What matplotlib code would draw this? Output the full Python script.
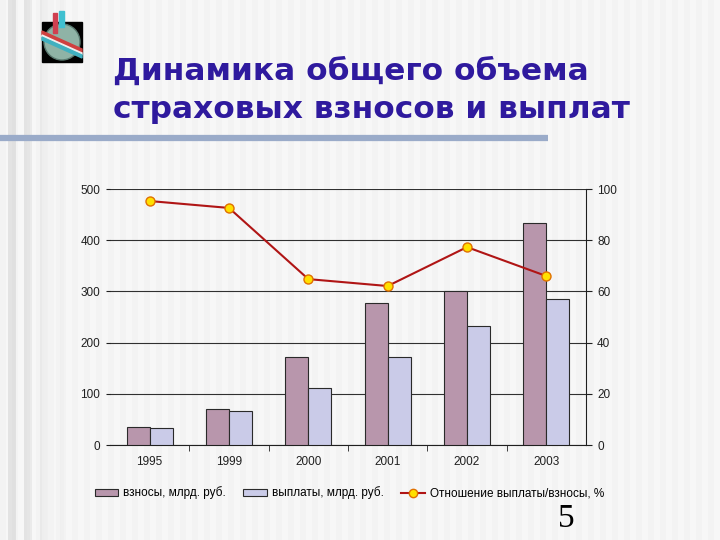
import numpy as np
import matplotlib.pyplot as plt
from matplotlib.patches import Circle, Rectangle, Polygon, Patch
from matplotlib.lines import Line2D

# data
years = ['1995', '1999', '2000', '2001', '2002', '2003']
premiums = [35, 70, 172, 277, 301, 434]      # взносы, млрд. руб.
payouts = [33, 66, 111, 172, 232, 285]       # выплаты, млрд. руб.
ratio = [95.3, 92.6, 64.8, 62.1, 77.3, 66.0]  # выплаты/взносы, %

c_prem = '#b896ac'
c_pay = '#cacbe8'
c_line = '#b01515'

fig = plt.figure(figsize=(7.2, 5.4), dpi=100)

# striped slide background (pixel coords)
bg = fig.add_axes([0, 0, 1, 1], zorder=-10)
x = np.arange(720)
row = 0.95 + 0.018 * ((x // 6) % 2)
fade = np.clip(1 - x / 70, 0, 1)
row = row - 0.09 * fade * ((x // 8) % 2)
bg.imshow(np.tile(row, (540, 1)), cmap='gray', vmin=0, vmax=1,
          aspect='auto', extent=[0, 720, 540, 0], interpolation='nearest')
bg.set_xlim(0, 720)
bg.set_ylim(540, 0)
bg.axis('off')

# horizontal rule under the title
bg.plot([0, 548], [138, 138], color='#9aabc9', lw=4.5, solid_capstyle='butt')

# small globe icon
bg.add_patch(Rectangle((42, 22), 40, 40, color='black'))
bg.add_patch(Circle((62, 42), 18, fc='#8fb3a6', ec='#5a7a70', lw=1))
bg.add_patch(Polygon([[42, 31], [82, 49], [82, 53], [42, 35]], color='#d04040'))
bg.add_patch(Polygon([[42, 35], [82, 53], [82, 55], [42, 37]], color='#f0f0f0'))
bg.add_patch(Polygon([[42, 37], [82, 55], [82, 58], [42, 40]], color='#40b0c0'))
bg.add_patch(Rectangle((53, 13), 4, 20, color='#d04050'))
bg.add_patch(Rectangle((59, 11), 5, 16, color='#40c0d0'))

# title
bg.text(113, 80, 'Динамика общего объема', fontsize=22.5, weight='bold',
        color='#2f1a9e', va='baseline', ha='left')
bg.text(113, 118, 'страховых взносов и выплат', fontsize=22.5, weight='bold',
        color='#2f1a9e', va='baseline', ha='left')

# page number
bg.text(566, 527, '5', fontfamily='Liberation Serif', fontsize=24,
        ha='center', va='baseline')

# chart
ax = fig.add_axes([110 / 720, 95 / 540, 476 / 720, 256 / 540])
ax.patch.set_alpha(0)
idx = np.arange(len(years))
w = 0.29
ax.bar(idx - w / 2, premiums, w, color=c_prem, edgecolor='#2a2a2a', lw=0.8, zorder=3)
ax.bar(idx + w / 2, payouts, w, color=c_pay, edgecolor='#2a2a2a', lw=0.8, zorder=3)
ax.set_xlim(-0.5, 5.5)
ax.set_ylim(0, 500)
ax.set_yticks(np.arange(0, 501, 100))
ax.yaxis.grid(True, color='#303030', lw=0.8, zorder=0)
ax.set_axisbelow(True)
ax.set_xticks(idx)
ax.set_xticklabels(years)
ax.set_xticks(idx[:-1] + 0.5, minor=True)
ax.tick_params(axis='x', which='major', length=0, pad=8)
ax.tick_params(axis='x', which='minor', length=4, direction='out', color='#202020')
ax.tick_params(axis='y', length=3, color='#202020', pad=4)
for s in ['top', 'left', 'right']:
    ax.spines[s].set_visible(False)
ax.spines['bottom'].set_color('#202020')

ax2 = ax.twinx()
ax2.plot(idx, ratio, color=c_line, lw=1.5, marker='o', ms=6.5,
         mfc='#ffe000', mec='#e07000', mew=1, zorder=5)
ax2.set_ylim(0, 100)
ax2.set_yticks(np.arange(0, 101, 20))
ax2.tick_params(axis='y', length=4, direction='out', color='#202020', pad=4)
for s in ['top', 'left', 'bottom']:
    ax2.spines[s].set_visible(False)
ax2.spines['right'].set_color('#202020')

for a in (ax, ax2):
    for lab in a.get_xticklabels() + a.get_yticklabels():
        lab.set_fontfamily('Liberation Sans')
        lab.set_fontsize(8.5)
        lab.set_color('#202020')

handles = [
    Patch(fc=c_prem, ec='#2a2a2a', lw=0.8),
    Patch(fc=c_pay, ec='#2a2a2a', lw=0.8),
    Line2D([], [], color=c_line, lw=1.5, marker='o', ms=6,
           mfc='#ffe000', mec='#e07000'),
]
labels = ['взносы, млрд. руб.', 'выплаты, млрд. руб.', 'Отношение выплаты/взносы, %']
fig.legend(handles, labels, loc='center', bbox_to_anchor=(0.485, 0.087), ncol=3,
           frameon=False, handlelength=2.0, handleheight=0.6, handletextpad=0.4,
           columnspacing=1.5, prop={'family': 'Liberation Sans', 'size': 8.5})

fig.savefig('out.png', dpi=100)
